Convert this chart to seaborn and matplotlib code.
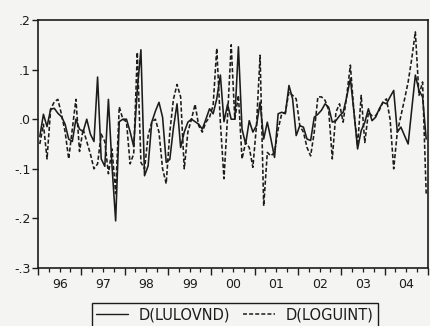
import numpy as np
import pandas as pd
import matplotlib
matplotlib.use("Agg")
import matplotlib.pyplot as plt
import seaborn as sns
from matplotlib.lines import Line2D

# ---------------- data (monthly, 1996M01 .. 2004M12) ----------------
year_labels = ["96", "97", "98", "99", "00", "01", "02", "03", "04"]
y_ticks = [-0.3, -0.2, -0.1, 0.0, 0.1, 0.2]
y_tick_labels = ["-.3", "-.2", "-.1", ".0", ".1", ".2"]
series_names = ["D(LULOVND)", "D(LOGUINT)"]

d_lulovnd = [
    -0.035, 0.010, -0.015, 0.020, 0.022, 0.012, 0.005, -0.010, -0.040, -0.045, 0.000, -0.020,
    -0.025, 0.000, -0.030, -0.045, 0.085, -0.080, -0.095, 0.040, -0.095, -0.205, -0.005, 0.000,
    0.000, -0.025, -0.055, 0.060, 0.140, -0.114, -0.094, -0.006, 0.016, 0.034, 0.004, -0.087,
    -0.081, -0.018, 0.031, -0.057, -0.026, -0.006, 0.000, -0.005, -0.010, -0.020, 0.000, 0.021,
    0.011, 0.041, 0.089, -0.005, 0.030, 0.000, 0.000, 0.146, -0.020, -0.050, -0.003, -0.026,
    -0.013, 0.034, -0.040, -0.006, -0.040, -0.077, 0.011, 0.014, 0.011, 0.068, 0.041, -0.033,
    -0.013, -0.016, -0.040, -0.043, 0.004, 0.010, 0.018, 0.031, 0.024, -0.006, -0.003, 0.007,
    0.014, 0.045, 0.082, 0.014, -0.060, -0.023, -0.006, 0.021, -0.003, 0.004, 0.021, 0.034,
    0.031, 0.045, 0.058, -0.026, -0.016, -0.033, -0.050, 0.020, 0.089, 0.058, 0.045, -0.040,
]
d_loguint = [
    -0.050, -0.010, -0.080, 0.020, 0.035, 0.040, 0.010, -0.025, -0.080, -0.020, 0.040, -0.065,
    -0.020, -0.045, -0.070, -0.100, -0.090, -0.030, -0.045, -0.110, -0.060, -0.150, 0.025, 0.000,
    -0.005, -0.090, -0.070, 0.135, -0.087, -0.100, -0.033, -0.006, 0.000, -0.026, -0.100, -0.130,
    -0.026, 0.040, 0.070, 0.045, -0.100, -0.026, 0.000, 0.030, -0.013, -0.026, -0.006, 0.004,
    0.028, 0.143, -0.006, -0.120, 0.007, 0.150, 0.000, 0.048, -0.080, -0.047, -0.057, -0.097,
    -0.013, 0.129, -0.175, -0.067, -0.074, -0.067, -0.020, 0.011, 0.014, 0.055, 0.048, 0.041,
    -0.013, -0.026, -0.057, -0.074, -0.026, 0.045, 0.045, 0.038, 0.018, -0.080, 0.014, 0.031,
    -0.006, 0.048, 0.109, 0.014, -0.053, 0.048, -0.047, 0.014, 0.007, 0.007, 0.018, 0.034,
    0.041, 0.000, -0.100, -0.026, 0.007, 0.040, 0.075, 0.122, 0.176, 0.048, 0.075, -0.150,
]

n = len(d_lulovnd)
t = np.arange(n) + 0.5  # month slot centres

df = pd.DataFrame({
    "t": np.concatenate([t, t]),
    "value": d_lulovnd + d_loguint,
    "series": [series_names[0]] * n + [series_names[1]] * n,
})

# ---------------- style ----------------
sns.set_theme(style="ticks")
plt.rcParams["font.family"] = ["DejaVu Sans"]
ink = "#1c1c1c"
paper = "#f4f4f2"

fig = plt.figure(figsize=(4.31, 3.26), dpi=100, facecolor=paper)
ax = fig.add_axes([38 / 431, 1 - 268 / 326, 390 / 431, 248 / 326], facecolor=paper)

sns.lineplot(
    data=df, x="t", y="value", hue="series", style="series",
    palette=[ink, ink], dashes={series_names[0]: "", series_names[1]: (2.6, 1.4)},
    linewidth=1.15, ax=ax, legend=False,
)

ax.set_xlim(0, n)
ax.set_ylim(-0.3, 0.2)
ax.set_xlabel("")
ax.set_ylabel("")

ax.set_yticks(y_ticks)
ax.set_yticklabels(y_tick_labels)

# year boundaries (major) and quarters (minor)
ax.set_xticks(np.arange(0, n + 1, 12))
ax.set_xticklabels([])
ax.set_xticks(np.arange(0, n + 1, 3), minor=True)
ax.tick_params(axis="x", which="major", direction="out", length=5, width=1.0, color=ink)
ax.tick_params(axis="x", which="minor", direction="out", length=3, width=0.9, color=ink)
ax.tick_params(axis="y", which="major", direction="out", length=4, width=1.0, color=ink,
               labelsize=9, labelcolor=ink, pad=1.5)

sec = ax.secondary_xaxis("bottom")
sec.set_xticks(np.arange(len(year_labels)) * 12 + 6)
sec.set_xticklabels(year_labels)
sec.tick_params(length=0, labelsize=9, labelcolor=ink, pad=7)
sec.spines["bottom"].set_visible(False)

for s in ax.spines.values():
    s.set_visible(True)
    s.set_color(ink)
    s.set_linewidth(1.2)

handles = [
    Line2D([], [], color=ink, lw=1.0),
    Line2D([], [], color=ink, lw=1.1, dashes=(2.6, 1.4)),
]
leg = ax.legend(
    handles, series_names, loc="upper center", bbox_to_anchor=(0.505, -0.142),
    ncol=2, frameon=True, fancybox=False, edgecolor=ink, framealpha=1,
    facecolor=paper, fontsize=10.5, handlelength=2.2, handletextpad=0.7,
    columnspacing=0.9, borderpad=0.3, borderaxespad=0,
)
leg.get_frame().set_linewidth(1.0)
for txt in leg.get_texts():
    txt.set_color(ink)

fig.savefig("out.png", dpi=100, facecolor=paper)
